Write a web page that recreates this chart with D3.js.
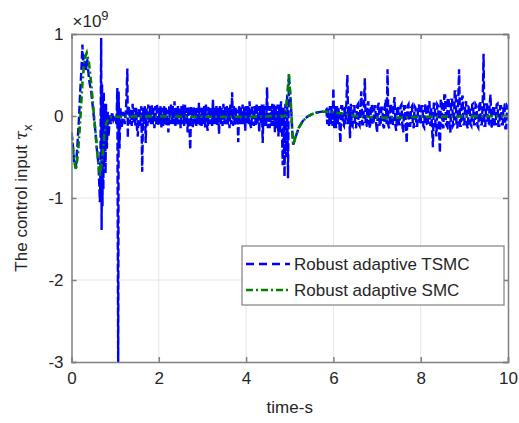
<!DOCTYPE html>
<html>
<head>
<meta charset="utf-8">
<script src="https://cdn.jsdelivr.net/npm/d3@7"></script>
<style>
body { margin:0; background:#fff; }
text { font-family: "Liberation Sans", Arial, sans-serif; fill:#262626; }
</style>
</head>
<body>
<svg id="chart"></svg>
<script>
// values in units of 1e9
var xTicks = [0, 2, 4, 6, 8, 10];
var yTicks = [-3, -2, -1, 0, 1];
var seriesNames = ['Robust adaptive TSMC', 'Robust adaptive SMC'];

var smcPoints = [
  [0,-0.2],[0.05,-0.5],[0.1,-0.66],[0.15,-0.45],[0.2,-0.05],[0.25,0.4],[0.3,0.7],[0.35,0.77],
  [0.4,0.65],[0.45,0.4],[0.5,0.1],[0.55,-0.2],[0.6,-0.5],[0.65,-0.73],[0.7,-0.55],[0.75,-0.25],
  [0.8,-0.08],[0.85,-0.03],[0.9,-0.015],[1.0,-0.01],[1.5,-0.005],[2,-0.005],[3,-0.01],[4,-0.01],
  [4.9,0.0],[4.95,0.3],[4.98,0.51],[5.02,0.2],[5.06,-0.2],[5.08,-0.35],[5.12,-0.28],[5.2,-0.15],
  [5.3,-0.06],[5.4,-0.01],[5.5,0.02],[5.6,0.04],[5.7,0.05],[5.8,0.055],[5.9,0.05],[6.0,0.045],
  [6.2,0.03],[6.5,0.0],[7,-0.02],[7.5,-0.02],[8,-0.01],[9,-0.005],[10,0.0]
];

// TSMC: start-up transient (t, value)
var tsmcStart = [
  [0,-0.2],[0.03,-0.35],[0.06,-0.55],[0.1,-0.62],[0.13,-0.4],[0.17,-0.05],[0.2,0.3],[0.23,0.6],
  [0.25,0.87],[0.27,0.6],[0.3,0.75],[0.33,0.55],[0.36,0.7],[0.4,0.45],[0.45,0.3],[0.5,0.05],
  [0.55,-0.2],[0.58,-0.4],[0.62,-0.6],[0.65,-1.05],[0.66,-0.8],[0.68,0.95],[0.69,-1.39],[0.7,0.4],
  [0.71,-1.1],[0.72,0.2],[0.73,-0.9],[0.74,0.3],[0.75,-0.6],[0.77,0.1],[0.78,-0.7],[0.79,0.15],
  [0.81,-0.4],[0.83,0.05],[0.85,-0.25],[0.88,0.02],[0.9,-0.1],[0.93,0.05],[0.96,-0.05],[1.0,0.0],
  [1.03,-0.1],[1.05,0.34],[1.07,-3.1],[1.08,0.3],[1.1,-0.4],[1.12,0.1],[1.15,-0.15],[1.18,0.05],
  [1.22,-0.1],[1.25,0.1],[1.28,0.58],[1.29,-0.27],[1.30,0.08]
];

// TSMC: noisy band sampled every 0.02 s from 1.32 s
var band1Start = 1.32;
var band1Values = [
  0.12,-0.1,0.08,-0.12,0.15,-0.08,0.1,-0.12,0.1,-0.15,
  -0.25,0.1,0.08,-0.12,0.12,-0.68,0.1,-0.1,0.12,-0.33,
  0.1,-0.12,0.14,-0.08,0.12,-0.1,0.14,-0.12,0.1,-0.15,
  0.12,-0.1,0.15,-0.12,0.1,-0.1,0.12,-0.14,0.1,-0.12,
  0.13,-0.1,0.1,-0.12,0.08,-0.2,0.12,-0.1,0.14,-0.1,
  0.12,-0.1,0.18,-0.12,0.1,-0.12,0.12,-0.1,0.1,-0.15,
  0.12,-0.1,0.14,-0.12,0.14,-0.1,0.1,-0.2,0.12,-0.1,
  -0.41,0.12,0.1,-0.15,0.12,-0.1,0.1,-0.12,0.1,-0.1,
  0.16,-0.12,0.1,-0.12,0.12,-0.1,0.12,-0.14,0.14,-0.1,
  -0.18,0.1,0.12,-0.1,0.1,-0.12,0.2,-0.1,0.12,-0.1,
  0.12,-0.12,0.1,-0.22,0.12,-0.1,0.1,-0.12,0.15,-0.1,
  0.12,-0.1,0.12,-0.12,0.1,-0.15,0.14,-0.1,0.29,-0.12,
  0.12,-0.12,0.1,-0.1,0.08,-0.32,0.12,-0.1,0.12,-0.1,
  0.14,-0.1,0.12,-0.18,0.12,-0.1,0.12,-0.1,0.18,-0.12,
  -0.15,0.1,0.1,-0.12,0.12,-0.12,0.15,-0.1,0.12,-0.2,
  0.12,-0.1,0.14,-0.33,0.14,-0.12,0.12,-0.12,0.35,-0.15,
  0.12,-0.15,0.12,-0.12,0.15,-0.12,0.14,-0.2,0.12,-0.15,
  0.14,-0.25,0.14,-0.2,0.18,-0.15,-0.6
];

// TSMC: disturbance at 5 s (t, value)
var tsmcMiddle = [
  [4.86,0.1],[4.88,-0.74],[4.90,0.15],[4.92,-0.5],[4.94,0.26],[4.96,-0.76],[4.98,0.5],
  [5.02,0.2],[5.06,-0.2],[5.08,-0.35],[5.12,-0.28],[5.2,-0.15],[5.3,-0.06],[5.4,-0.01],[5.5,0.02],
  [5.6,0.04],[5.7,0.05],[5.8,0.055]
];

// TSMC: noisy band sampled every 0.02 s from 5.84 s
var band2Start = 5.84;
var band2Values = [
  0.08,-0.1,0.1,-0.12,0.12,-0.1,0.12,-0.12,0.34,-0.15,
  0.12,-0.15,0.12,-0.1,0.1,-0.12,-0.33,0.12,0.12,-0.1,
  -0.12,0.12,-0.1,0.2,0.5,-0.1,0.12,-0.27,0.15,-0.1,
  -0.12,0.12,0.12,-0.1,-0.15,0.12,0.14,-0.1,-0.12,0.14,
  0.3,-0.1,-0.1,0.12,0.46,-0.12,-0.12,0.14,0.18,-0.1,
  -0.15,0.12,0.14,-0.1,-0.1,0.12,0.12,-0.1,-0.2,0.12,
  0.16,-0.12,-0.12,0.1,0.1,-0.12,-0.15,0.12,0.2,-0.1,
  0.57,-0.12,-0.15,0.12,0.15,-0.1,-0.12,0.12,0.23,-0.12,
  -0.18,0.12,0.12,-0.1,-0.1,0.12,0.14,-0.12,-0.2,0.12,
  0.12,-0.1,-0.33,0.12,0.14,-0.12,-0.12,0.1,0.12,-0.1,
  -0.15,0.12,0.1,-0.12,-0.12,0.1,0.14,-0.1,-0.1,0.12,
  0.12,-0.12,-0.14,0.12,0.15,-0.1,-0.12,0.15,0.18,-0.12,
  0.1,-0.15,-0.38,0.15,0.15,-0.12,-0.25,0.14,0.12,-0.15,
  -0.45,0.2,0.2,-0.12,-0.15,0.25,0.25,-0.1,-0.12,0.22,
  0.22,-0.15,-0.2,0.2,0.2,-0.12,-0.1,0.3,0.3,-0.12,
  -0.15,0.2,0.57,-0.12,-0.12,0.2,0.25,-0.1,-0.1,0.15,
  0.18,-0.12,-0.15,0.12,0.12,-0.1,-0.12,0.14,0.15,-0.1,
  -0.1,0.14,0.12,-0.12,-0.14,0.12,0.18,-0.1,-0.1,0.15,
  0.76,-0.12,-0.12,0.14,0.14,-0.1,-0.1,0.15,0.26,-0.12,
  -0.15,0.12,0.12,-0.1,-0.1,0.14,0.15,-0.12,-0.12,0.12,
  0.12,-0.1,-0.1,0.14,0.14,-0.15,-0.15,0.12,0.1
];
var bandStep = 0.02;

function band(start, vals){
    return vals.map(function(v, i){ return [start + i * bandStep, v]; });
}

var tsmcPoints = tsmcStart
    .concat(band(band1Start, band1Values))
    .concat(tsmcMiddle)
    .concat(band(band2Start, band2Values));

var width = 519, height = 423;
var margin = {left: 71.5, right: 11, top: 34, bottom: 61};

var svg = d3.select('#chart')
    .attr('width', width)
    .attr('height', height);

var x = d3.scaleLinear().domain([0, 10]).range([margin.left, width - margin.right]);
var y = d3.scaleLinear().domain([-3, 1]).range([height - margin.bottom, margin.top]);

// grid
svg.append('g').selectAll('line')
    .data(xTicks.slice(1, -1))
    .enter().append('line')
    .attr('x1', function(d){ return x(d); }).attr('x2', function(d){ return x(d); })
    .attr('y1', y(-3)).attr('y2', y(1))
    .attr('stroke', '#e6e6e6').attr('stroke-width', 1);
svg.append('g').selectAll('line')
    .data(yTicks.slice(1, -1))
    .enter().append('line')
    .attr('y1', function(d){ return y(d); }).attr('y2', function(d){ return y(d); })
    .attr('x1', x(0)).attr('x2', x(10))
    .attr('stroke', '#e6e6e6').attr('stroke-width', 1);

svg.append('defs').append('clipPath').attr('id', 'clip')
    .append('rect')
    .attr('x', x(0)).attr('y', y(1))
    .attr('width', x(10) - x(0)).attr('height', y(-3) - y(1));

var line = d3.line()
    .x(function(d){ return x(d[0]); })
    .y(function(d){ return y(d[1]); });

var plot = svg.append('g').attr('clip-path', 'url(#clip)');

plot.append('path')
    .datum(tsmcPoints)
    .attr('d', line)
    .attr('fill', 'none')
    .attr('stroke', '#0000ff')
    .attr('stroke-width', 2.4)
    .attr('stroke-dasharray', '8,3');

plot.append('path')
    .datum(smcPoints)
    .attr('d', line)
    .attr('fill', 'none')
    .attr('stroke', '#008000')
    .attr('stroke-width', 2.6)
    .attr('stroke-dasharray', '7,3,2,3');

// axes
var fmt = function(d){ return String(d); };
var xAxis = d3.axisBottom(x).tickValues(xTicks).tickSize(-5).tickPadding(10).tickFormat(fmt);
var yAxis = d3.axisLeft(y).tickValues(yTicks).tickSize(-5).tickPadding(8).tickFormat(fmt);

var gx = svg.append('g').attr('transform', 'translate(0,' + y(-3) + ')').call(xAxis);
var gy = svg.append('g').attr('transform', 'translate(' + x(0) + ',0)').call(yAxis);
var gx2 = svg.append('g').attr('transform', 'translate(0,' + y(1) + ')')
    .call(d3.axisTop(x).tickValues(xTicks).tickSize(-5).tickFormat(''));
var gy2 = svg.append('g').attr('transform', 'translate(' + x(10) + ',0)')
    .call(d3.axisRight(y).tickValues(yTicks).tickSize(-5).tickFormat(''));

[gx, gy, gx2, gy2].forEach(function(g){
    g.select('.domain').attr('stroke', '#808080').attr('stroke-width', 1.5);
    g.selectAll('.tick line').attr('stroke', '#808080').attr('stroke-width', 1.5);
    g.selectAll('.tick text')
        .style('font-family', '"Liberation Sans", Arial, sans-serif')
        .style('font-size', '17px')
        .attr('fill', '#262626');
});

// exponent label
var expo = svg.append('text')
    .attr('x', x(0) + 1)
    .attr('y', 27)
    .style('font-size', '17px');
expo.append('tspan').text('\u00d710');
expo.append('tspan').attr('dy', -7).style('font-size', '13px').text('9');

// axis labels
svg.append('text')
    .attr('x', (x(0) + x(10)) / 2)
    .attr('y', 413)
    .attr('text-anchor', 'middle')
    .style('font-size', '17px')
    .text('time-s');

var yl = svg.append('text')
    .attr('transform', 'translate(27,' + ((y(-3) + y(1)) / 2) + ') rotate(-90)')
    .attr('text-anchor', 'middle')
    .style('font-size', '17px');
yl.append('tspan').text('The control input ');
yl.append('tspan').style('font-family', '"DejaVu Serif", serif').style('font-style', 'italic').text('\u03c4');
yl.append('tspan').attr('dy', 5).style('font-size', '13px').text('x');

// legend
var legend = svg.append('g').attr('transform', 'translate(242,246)');
legend.append('rect')
    .attr('width', 262).attr('height', 59)
    .attr('fill', '#fff').attr('stroke', '#808080').attr('stroke-width', 1.2);
var legendStyles = [
    {color: '#0000ff', dash: '8,5', w: 2.4},
    {color: '#008000', dash: '7,3,2,3', w: 2.6}
];
seriesNames.forEach(function(name, i){
    var ly = 18 + i * 26;
    legend.append('line')
        .attr('x1', 4).attr('x2', 48)
        .attr('y1', ly).attr('y2', ly)
        .attr('stroke', legendStyles[i].color)
        .attr('stroke-width', legendStyles[i].w)
        .attr('stroke-dasharray', legendStyles[i].dash);
    legend.append('text')
        .attr('x', 52).attr('y', ly + 6)
        .style('font-size', '17px')
        .text(name);
});
</script>
</body>
</html>
